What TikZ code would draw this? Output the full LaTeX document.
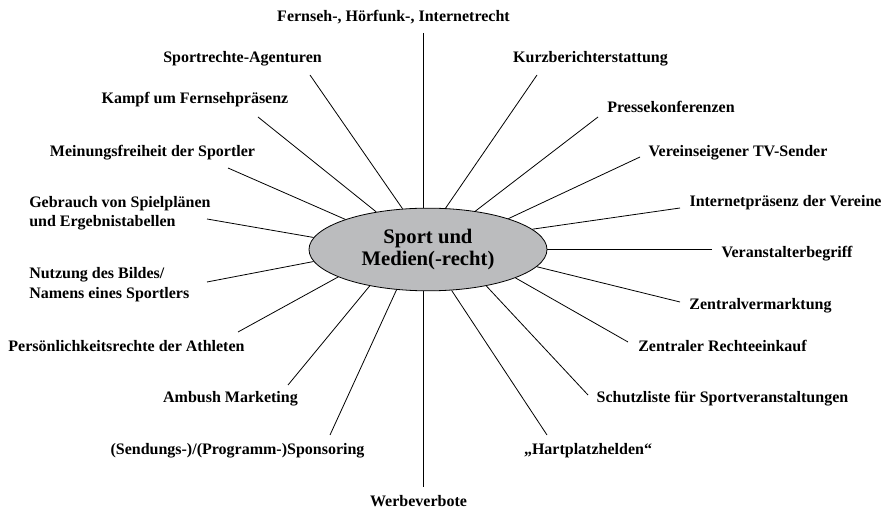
\documentclass[tikz,border=0pt]{standalone}
\usepackage{fontspec}
\setmainfont{Liberation Serif}
\usepackage{xcolor}
\usepackage{tikz}
\usetikzlibrary{positioning,shapes.geometric,calc}

\definecolor{hubgray}{RGB}{187,188,190}

\tikzset{
  topic/.style={font=\fontsize{12}{14.5}\selectfont\bfseries, inner sep=0pt},
  spoke/.style={line width=0.6pt, black}
}

\begin{document}
\begin{tikzpicture}[x=0.75pt, y=0.75pt]

\useasboundingbox (0, 0) rectangle (885, 510);

% Central ellipse
\node[ellipse, draw, line width=0.6pt, fill=hubgray, minimum width=178.5pt, minimum height=62pt, inner sep=0pt, align=center, font=\fontsize{15.5}{17}\selectfont\bfseries] (hub) at (428, 260.5) {Sport und\\Medien(-recht)};

% Topics, upper half
\node[topic, anchor=base] (fernseh) at (393.5, 488) {Fernseh-, Hörfunk-, Internetrecht};
\node[topic, anchor=base] (sportrechte) at (242.5, 447) {Sportrechte-Agenturen};
\node[topic, anchor=base] (kampf) at (195, 406) {Kampf um Fernsehpräsenz};
\node[topic, anchor=base] (meinung) at (152.5, 353) {Meinungsfreiheit der Sportler};
\node[topic, anchor=west, align=left] (gebrauch) at (29, 297) {Gebrauch von Spielplänen\\und Ergebnistabellen};
\node[topic, anchor=base] (kurz) at (590.5, 447) {Kurzberichterstattung};
\node[topic, anchor=base] (presse) at (671, 397) {Pressekonferenzen};
\node[topic, anchor=base] (tvsender) at (738, 353) {Vereinseigener TV-Sender};
\node[topic, anchor=base] (internet) at (785.5, 303) {Internetpräsenz der Vereine};
\node[topic, anchor=base] (veranstalter) at (787, 252) {Veranstalterbegriff};

% Topics, lower half
\node[topic, anchor=west, align=left] (nutzung) at (29, 225.5) {Nutzung des Bildes/\\Namens eines Sportlers};
\node[topic, anchor=base] (persoenlich) at (126.5, 158) {Persönlichkeitsrechte der Athleten};
\node[topic, anchor=base] (ambush) at (230.5, 107) {Ambush Marketing};
\node[topic, anchor=base] (sponsoring) at (237.5, 55) {(Sendungs-)/(Programm-)Sponsoring};
\node[topic, anchor=base] (werbe) at (418.5, 3) {Werbeverbote};
\node[topic, anchor=base] (hartplatz) at (588, 55) {„Hartplatzhelden“};
\node[topic, anchor=base] (schutz) at (722.5, 107) {Schutzliste für Sportveranstaltungen};
\node[topic, anchor=base] (rechteeinkauf) at (722.5, 158) {Zentraler Rechteeinkauf};
\node[topic, anchor=base] (zentralverm) at (760.5, 200) {Zentralvermarktung};

% Free ends of the spokes
\coordinate (fernseh-end) at (423, 477);
\coordinate (sportrechte-end) at (310, 435);
\coordinate (kampf-end) at (258, 393);
\coordinate (meinung-end) at (228, 342);
\coordinate (gebrauch-end) at (207, 291);
\coordinate (nutzung-end) at (207, 228);
\coordinate (persoenlich-end) at (238, 178);
\coordinate (ambush-end) at (288, 125);
\coordinate (sponsoring-end) at (330, 75);
\coordinate (werbe-end) at (423, 23);
\coordinate (hartplatz-end) at (547, 75);
\coordinate (schutz-end) at (588, 115);
\coordinate (rechteeinkauf-end) at (628, 168);
\coordinate (zentralverm-end) at (680, 208);
\coordinate (veranstalter-end) at (712, 261);
\coordinate (internet-end) at (680, 302);
\coordinate (tvsender-end) at (640, 353);
\coordinate (presse-end) at (598, 393);
\coordinate (kurz-end) at (537, 435);

% Spokes
\draw[spoke] (fernseh-end) -- (fernseh-end |- hub.north);
\draw[spoke] (sportrechte-end) -- (hub.122.1);
\draw[spoke] (kampf-end) -- (hub.144.7);
\draw[spoke] (meinung-end) -- (hub.160.3);
\draw[spoke] (gebrauch-end) -- (hub.174.3);
\draw[spoke] (nutzung-end) -- (hub.186);
\draw[spoke] (persoenlich-end) -- (hub.197.6);
\draw[spoke] (ambush-end) -- (hub.212);
\draw[spoke] (sponsoring-end) -- (hub.232.1);
\draw[spoke] (werbe-end) -- (werbe-end |- hub.south);
\draw[spoke] (hartplatz-end) -- (hub.300.5);
\draw[spoke] (schutz-end) -- (hub.328.4);
\draw[spoke] (rechteeinkauf-end) -- (hub.342.2);
\draw[spoke] (zentralverm-end) -- (hub.351);
\draw[spoke] (veranstalter-end) -- (veranstalter-end -| hub.east);
\draw[spoke] (internet-end) -- (hub.11.6);
\draw[spoke] (tvsender-end) -- (hub.21.5);
\draw[spoke] (presse-end) -- (hub.39.3);
\draw[spoke] (kurz-end) -- (hub.67.7);

\end{tikzpicture}
\end{document}
